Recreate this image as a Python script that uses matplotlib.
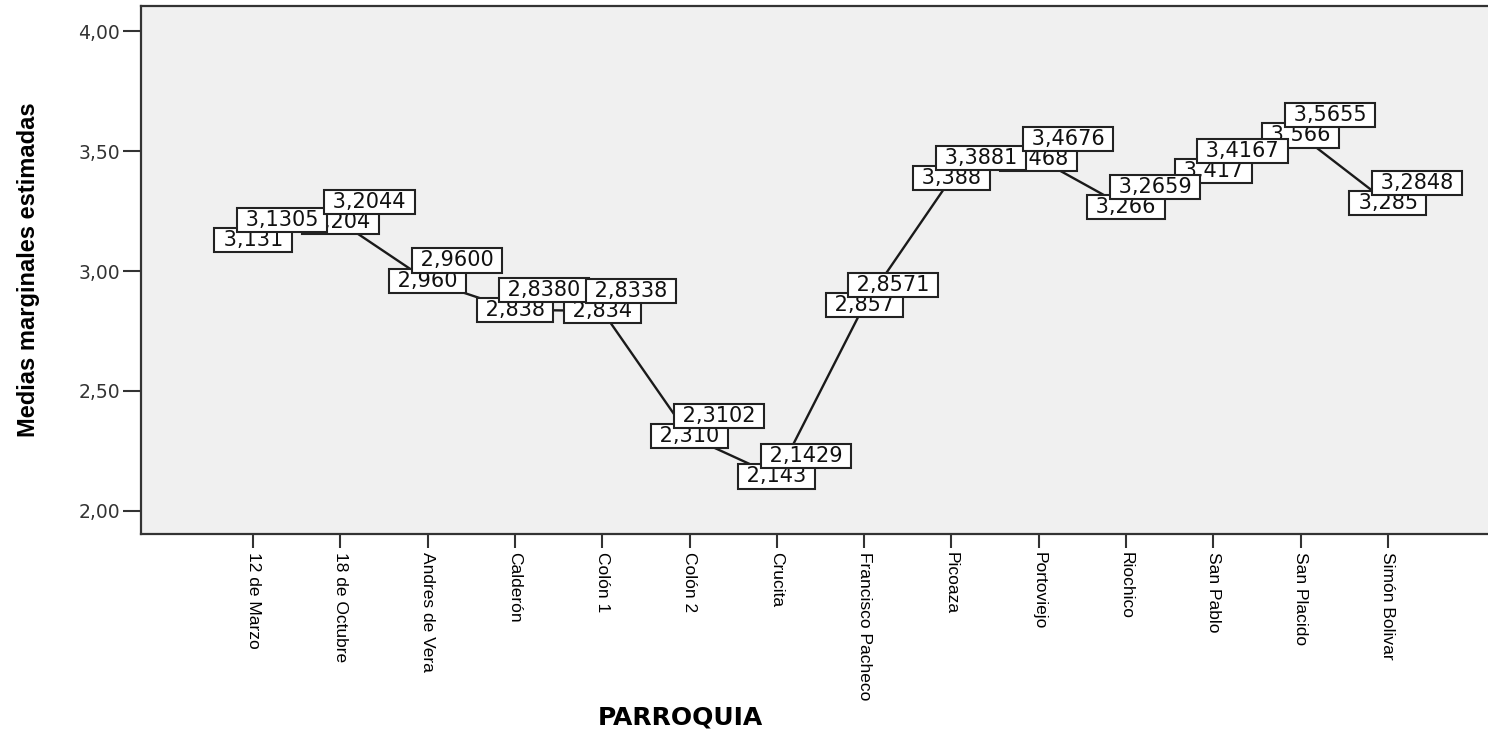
import matplotlib
matplotlib.use("Agg")
import matplotlib.pyplot as plt
from matplotlib.ticker import FuncFormatter

# estimated marginal means by parish
parroquias = ["12 de Marzo", "18 de Octubre", "Andres de Vera", "Calderón", "Colón 1",
              "Colón 2", "Crucita", "Francisco Pacheco", "Picoaza", "Portoviejo",
              "Riochico", "San Pablo", "San Placido", "Simón Bolivar"]
medias = [3.1305, 3.2044, 2.9600, 2.8380, 2.8338, 2.3102, 2.1429, 2.8571,
          3.3881, 3.4676, 3.2659, 3.4167, 3.5655, 3.2848]
yticks = [2.0, 2.5, 3.0, 3.5, 4.0]

fig = plt.figure(figsize=(14.88, 7.42), dpi=100)
ax = fig.add_axes([141 / 1488, 1 - 534 / 742, 1 - 141 / 1488, (534 - 6.4) / 742])
ax.set_facecolor("#f0f0f0")

x = list(range(len(parroquias)))
ax.plot(x, medias, color="#1a1a1a", lw=1.7, zorder=2)

box = dict(boxstyle="square,pad=0.1", fc="white", ec="#222222", lw=1.5)

# label at the point (3 decimals) then the offset label (4 decimals)
for i, v in zip(x, medias):
    txt = f"{v:.3f}".replace(".", ",")
    ax.annotate(f" {txt} ", xy=(i, v), ha="center", va="center",
                fontsize=15, family="DejaVu Sans", color="#111111", zorder=3, bbox=box)
for i, v in zip(x, medias):
    txt = f"{v:.4f}".replace(".", ",")
    ax.annotate(f" {txt} ", xy=(i, v), xytext=(21, 14.5), textcoords="offset points",
                ha="center", va="center", fontsize=15, family="DejaVu Sans",
                color="#111111", zorder=4, bbox=box)

ax.set_xlim(-1.283, 14.146)
ax.set_ylim(1.903, 4.104)
ax.set_xticks(x)
ax.set_xticklabels(parroquias, rotation=270, ha="center", va="top",
                   fontsize=12.5, family="Liberation Sans")
ax.set_yticks(yticks)
ax.yaxis.set_major_formatter(FuncFormatter(lambda v, p: f"{v:.2f}".replace(".", ",")))
for lab in ax.get_yticklabels():
    lab.set_family("DejaVu Sans")
    lab.set_fontsize(13.5)
    lab.set_color("#333333")

ax.tick_params(axis="y", length=13, width=1.5, color="#333333", pad=2)
ax.tick_params(axis="x", length=10, width=1.5, color="#333333", pad=3)
ax.spines["right"].set_visible(False)
for s in ["left", "bottom", "top"]:
    ax.spines[s].set_linewidth(1.6)
    ax.spines[s].set_color("#333333")

fig.text(0.019, 1 - 270 / 742, "Medias marginales estimadas", rotation=90,
         ha="center", va="center", fontsize=17, fontweight="bold", family="Liberation Sans")
fig.text(680 / 1488, 1 - 718 / 742, "PARROQUIA", ha="center", va="center",
         fontsize=18, fontweight="bold", family="DejaVu Sans")

fig.savefig("out.png", dpi=100, facecolor="white")
